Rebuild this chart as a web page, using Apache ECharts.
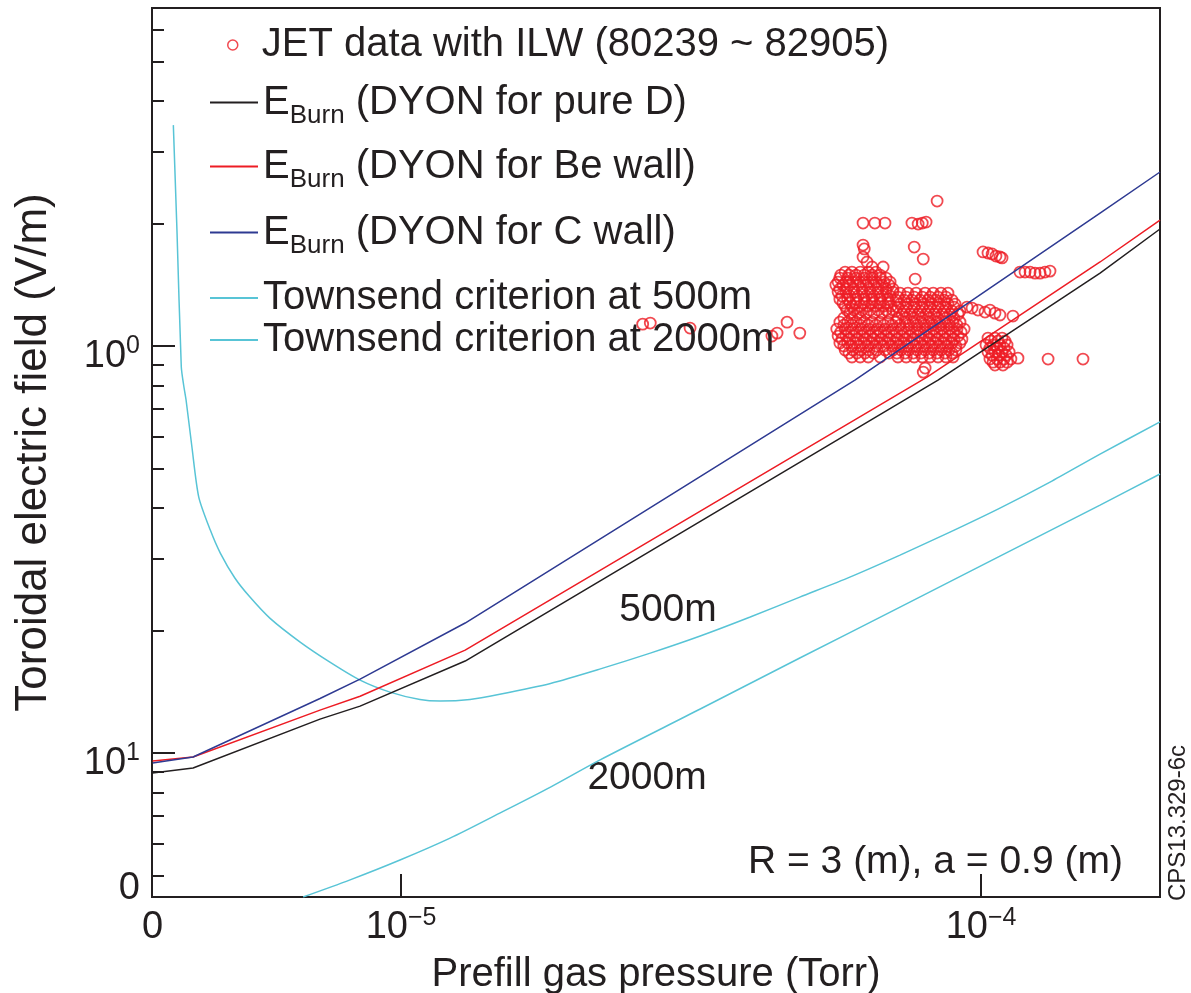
<!DOCTYPE html>
<html>
<head>
<meta charset="utf-8">
<script src="https://cdn.jsdelivr.net/npm/echarts@6/dist/echarts.min.js"></script>
<style>
html, body { margin: 0; padding: 0; background: #fff; }
#chart { width: 1191px; height: 993px; }
</style>
</head>
<body>
<div id="chart"></div>
<script>
// axis ranges (Torr, V/m)
var xMin = 3.721e-6, xMax = 2.035e-4;
var yMin = 0.0443, yMax = 6.77;

// tick labels as printed in the figure
var xLabelVals = [3.73e-6, 1e-5, 1e-4];
var xLabelText = ['0', '10{sup|−5}', '10{sup|−4}'];
var xTickVals = [1e-5, 1e-4];
var yLabelVals = [1, 0.1, 0.0493];
var yLabelText = ['10{sup|0}', '10{sup|1}', '0'];
var yMajorTicks = [1, 0.1];
var yMinorTicks = [6, 5, 4, 3, 2, 0.9, 0.8, 0.7, 0.6, 0.5, 0.4, 0.3, 0.2, 0.09, 0.08, 0.07, 0.06, 0.05];

// DYON burn-through curves [pressure (Torr), E (V/m)]
var burnD = [[3.73e-6, 0.0893], [4.38e-6, 0.0919], [7.25e-6, 0.1212], [8.50e-6, 0.1304], [1.29e-5, 0.1683], [8.43e-5, 0.825], [1.604e-4, 1.511], [2.035e-4, 1.939]];
var burnBe = [[3.73e-6, 0.0956], [4.38e-6, 0.0978], [7.25e-6, 0.1275], [8.50e-6, 0.1379], [1.29e-5, 0.1791], [8.07e-5, 0.839], [1.604e-4, 1.609], [2.035e-4, 2.04]];
var burnC = [[3.73e-6, 0.0945], [4.38e-6, 0.0978], [7.25e-6, 0.1362], [8.50e-6, 0.152], [1.29e-5, 0.2087], [6.06e-5, 0.825], [1.604e-4, 2.122], [2.035e-4, 2.677]];

// Townsend criterion curves
var town500 = [[4.05e-6, 3.49], [4.11e-6, 1.895], [4.18e-6, 0.888], [4.22e-6, 0.80], [4.26e-6, 0.737], [4.36e-6, 0.565], [4.48e-6, 0.4256], [4.69e-6, 0.3531], [4.88e-6, 0.31], [5.17e-6, 0.2693], [5.49e-6, 0.2417], [5.94e-6, 0.2146], [6.70e-6, 0.1874], [7.54e-6, 0.1673], [8.50e-6, 0.1511], [9.57e-6, 0.1412], [1.078e-5, 0.1354], [1.168e-5, 0.1342], [1.315e-5, 0.1354], [1.48e-5, 0.1395], [1.81e-5, 0.1483], [2.20e-5, 0.1608], [2.69e-5, 0.176], [3.28e-5, 0.1939], [4.00e-5, 0.2159], [4.87e-5, 0.2417], [5.94e-5, 0.2706], [7.25e-5, 0.3065], [8.84e-5, 0.3491], [1.078e-4, 0.3999], [1.315e-4, 0.4633], [1.604e-4, 0.5429], [2.035e-4, 0.651]];
var town2000 = [[6.78e-6, 0.0443], [8.17e-6, 0.0488], [9.96e-6, 0.0546], [1.215e-5, 0.0618], [1.48e-5, 0.0712], [1.81e-5, 0.0825], [2.20e-5, 0.0961], [3.28e-5, 0.1283], [4.87e-5, 0.1712], [7.25e-5, 0.2284], [1.078e-4, 0.3048], [1.604e-4, 0.4068], [2.035e-4, 0.485]];

// JET ILW shots: [pressure (1e-5 Torr), E (V/m)]
var jetData = [
  [2.61, 1.132], [2.69, 1.139], [3.15, 1.107], [4.36, 1.058], [4.45, 1.076], [4.63, 1.145], [4.87, 1.076],
  [8.40, 2.271], [6.26, 2.005], [6.56, 2.005], [6.83, 2.005], [7.60, 2.005], [7.79, 1.994], [7.92, 2.005], [8.04, 2.017],
  [6.26, 1.771], [6.29, 1.732], [7.67, 1.751], [7.95, 1.636], [6.26, 1.655], [6.36, 1.609], [6.49, 1.564], [6.78, 1.564], [7.70, 1.461],
  [10.08, 1.703], [10.28, 1.693], [10.45, 1.684], [10.61, 1.664], [10.78, 1.655], [10.87, 1.646],
  [11.67, 1.520], [11.91, 1.520], [12.15, 1.520], [12.39, 1.511], [12.64, 1.511], [12.89, 1.520], [13.15, 1.528],
  [9.46, 1.247], [9.65, 1.240], [9.88, 1.226], [10.16, 1.212], [10.36, 1.226], [10.57, 1.205], [10.78, 1.192], [11.35, 1.185],
  [8.01, 0.883], [7.95, 0.863], [11.58, 0.934], [13.05, 0.929], [14.99, 0.929],
  // upper-left lobe
  [5.83, 1.520], [5.99, 1.520], [6.19, 1.520], [6.39, 1.520], [6.59, 1.520],
  [5.73, 1.494], [5.92, 1.494], [6.09, 1.494], [6.29, 1.494], [6.49, 1.494], [6.70, 1.494],
  [5.71, 1.469], [5.89, 1.469], [6.09, 1.469], [6.29, 1.469], [6.49, 1.469], [6.70, 1.469], [6.86, 1.469],
  [5.67, 1.436], [5.85, 1.436], [6.01, 1.436], [6.19, 1.436], [6.39, 1.436], [6.59, 1.436], [6.80, 1.436], [6.97, 1.436],
  [5.62, 1.412], [5.78, 1.412], [5.94, 1.412], [6.14, 1.412], [6.34, 1.412], [6.54, 1.412], [6.75, 1.412], [6.94, 1.412],
  [5.71, 1.381], [5.87, 1.381], [6.04, 1.381], [6.24, 1.381], [6.44, 1.381], [6.64, 1.381], [6.86, 1.381], [7.05, 1.381],
  [5.67, 1.357], [5.85, 1.357], [6.04, 1.357], [6.24, 1.357], [6.44, 1.357], [6.64, 1.357], [6.86, 1.357], [7.05, 1.357],
  [5.76, 1.327], [5.94, 1.327], [6.14, 1.327], [6.34, 1.327], [6.54, 1.327], [6.75, 1.327], [6.97, 1.327],
  [5.71, 1.304], [5.89, 1.304], [6.09, 1.304], [6.29, 1.304], [6.49, 1.304], [6.70, 1.304], [6.91, 1.304],
  [5.78, 1.275], [5.94, 1.275], [6.09, 1.275], [6.29, 1.275], [6.49, 1.275], [6.70, 1.275], [6.91, 1.275],
  [5.83, 1.254], [5.99, 1.254], [6.19, 1.254], [6.39, 1.254], [6.59, 1.254], [6.80, 1.254], [7.00, 1.254],
  [5.87, 1.226], [6.04, 1.226], [6.24, 1.226], [6.44, 1.226], [6.64, 1.226], [6.86, 1.226], [7.05, 1.226],
  [5.94, 1.205], [6.14, 1.205], [6.34, 1.205], [6.54, 1.205], [6.75, 1.205], [6.94, 1.205],
  // middle blob, upper part
  [7.25, 1.349], [7.48, 1.349], [7.73, 1.349], [8.01, 1.349], [8.27, 1.349], [8.53, 1.349], [8.77, 1.349],
  [7.19, 1.319], [7.43, 1.319], [7.67, 1.319], [7.92, 1.319], [8.17, 1.319], [8.43, 1.319], [8.70, 1.319],
  [7.14, 1.297], [7.37, 1.297], [7.60, 1.297], [7.85, 1.297], [8.11, 1.297], [8.36, 1.297], [8.64, 1.297], [8.91, 1.297],
  [7.25, 1.268], [7.48, 1.268], [7.73, 1.268], [7.98, 1.268], [8.24, 1.268], [8.50, 1.268], [8.77, 1.268], [9.02, 1.268],
  [7.19, 1.247], [7.43, 1.247], [7.67, 1.247], [7.92, 1.247], [8.17, 1.247], [8.43, 1.247], [8.70, 1.247], [8.98, 1.247],
  [7.14, 1.219], [7.37, 1.219], [7.60, 1.219], [7.85, 1.219], [8.11, 1.219], [8.36, 1.219], [8.64, 1.219], [8.91, 1.219], [9.20, 1.219],
  [7.31, 1.198], [7.54, 1.198], [7.79, 1.198], [8.04, 1.198], [8.30, 1.198], [8.57, 1.198], [8.84, 1.198], [9.13, 1.198],
  [5.80, 1.172], [5.99, 1.172], [6.19, 1.172], [7.19, 1.172], [7.43, 1.172], [7.67, 1.172], [7.92, 1.172], [8.17, 1.172], [8.43, 1.172], [8.70, 1.172], [8.98, 1.172],
  // lower band
  [5.71, 1.145], [5.89, 1.145], [6.09, 1.145], [6.29, 1.145], [6.49, 1.145], [6.70, 1.145], [6.91, 1.145], [7.14, 1.145],
  [7.40, 1.145], [7.64, 1.145], [7.88, 1.145], [8.14, 1.145], [8.40, 1.145], [8.67, 1.145], [8.95, 1.145], [9.20, 1.145],
  [5.80, 1.126], [5.99, 1.126], [6.19, 1.126], [6.39, 1.126], [6.59, 1.126], [6.80, 1.126], [7.03, 1.126], [7.25, 1.126],
  [7.51, 1.126], [7.76, 1.126], [8.01, 1.126], [8.27, 1.126], [8.53, 1.126], [8.81, 1.126], [9.09, 1.126],
  [5.64, 1.101], [5.83, 1.101], [6.01, 1.101], [6.21, 1.101], [6.41, 1.101], [6.62, 1.101], [6.83, 1.101], [7.05, 1.101],
  [7.28, 1.101], [7.51, 1.101], [7.76, 1.101], [8.01, 1.101], [8.27, 1.101], [8.53, 1.101], [8.81, 1.101], [9.09, 1.101], [9.35, 1.101],
  [5.73, 1.082], [5.92, 1.082], [6.11, 1.082], [6.31, 1.082], [6.52, 1.082], [6.72, 1.082], [6.94, 1.082], [7.16, 1.082],
  [7.40, 1.082], [7.64, 1.082], [7.88, 1.082], [8.14, 1.082], [8.40, 1.082], [8.67, 1.082], [8.95, 1.082], [9.24, 1.082],
  [5.67, 1.058], [5.85, 1.058], [6.04, 1.058], [6.24, 1.058], [6.44, 1.058], [6.64, 1.058], [6.86, 1.058], [7.08, 1.058],
  [7.31, 1.058], [7.54, 1.058], [7.79, 1.058], [8.04, 1.058], [8.30, 1.058], [8.57, 1.058], [8.84, 1.058], [9.13, 1.058],
  [5.76, 1.040], [5.94, 1.040], [6.14, 1.040], [6.34, 1.040], [6.54, 1.040], [6.75, 1.040], [6.97, 1.040], [7.19, 1.040],
  [7.43, 1.040], [7.67, 1.040], [7.92, 1.040], [8.17, 1.040], [8.43, 1.040], [8.70, 1.040], [8.98, 1.040], [9.27, 1.040],
  [5.71, 1.017], [5.89, 1.017], [6.09, 1.017], [6.29, 1.017], [6.49, 1.017], [6.70, 1.017], [6.91, 1.017], [7.14, 1.017],
  [7.37, 1.017], [7.60, 1.017], [7.85, 1.017], [8.11, 1.017], [8.36, 1.017], [8.64, 1.017], [8.91, 1.017], [9.20, 1.017],
  [5.80, 1.000], [5.99, 1.000], [6.19, 1.000], [6.39, 1.000], [6.59, 1.000], [6.80, 1.000], [7.03, 1.000], [7.25, 1.000],
  [7.48, 1.000], [7.73, 1.000], [7.98, 1.000], [8.24, 1.000], [8.50, 1.000], [8.77, 1.000], [9.05, 1.000],
  [5.83, 0.978], [6.01, 0.978], [6.21, 0.978], [6.41, 0.978], [6.62, 0.978], [6.83, 0.978], [7.05, 0.978], [7.28, 0.978],
  [7.51, 0.978], [7.76, 0.978], [8.01, 0.978], [8.27, 0.978], [8.53, 0.978], [8.81, 0.978], [9.05, 0.978],
  [5.92, 0.961], [6.11, 0.961], [6.31, 0.961], [6.52, 0.961], [6.94, 0.961], [7.16, 0.961], [7.40, 0.961], [7.64, 0.961],
  [7.88, 0.961], [8.14, 0.961], [8.40, 0.961], [8.67, 0.961], [8.91, 0.961],
  [5.99, 0.940], [6.19, 0.940], [6.39, 0.940], [6.70, 0.940], [7.19, 0.940], [7.43, 0.940], [7.67, 0.940], [7.92, 0.940],
  [8.17, 0.940], [8.43, 0.940], [8.70, 0.940], [8.95, 0.940],
  // small group right of the blue line
  [10.28, 1.046], [10.57, 1.046], [10.87, 1.046],
  [10.40, 1.029], [10.70, 1.029], [11.00, 1.029],
  [10.20, 1.006], [10.49, 1.006], [10.78, 1.006], [11.09, 1.006],
  [10.36, 0.989], [10.66, 0.989], [10.96, 0.989],
  [10.28, 0.967], [10.57, 0.967], [10.87, 0.967], [11.18, 0.967],
  [10.45, 0.950], [10.74, 0.950], [11.05, 0.950],
  [10.36, 0.929], [10.66, 0.929], [10.96, 0.929], [11.26, 0.929],
  [10.49, 0.913], [10.78, 0.913], [11.09, 0.913],
  [10.57, 0.898], [10.91, 0.898]
];

var jetName = 'JET data with ILW (80239 ~ 82905)';
var nameD = 'EBurn (DYON for pure D)';
var nameBe = 'EBurn (DYON for Be wall)';
var nameC = 'EBurn (DYON for C wall)';
var name500 = 'Townsend criterion at 500m';
var name2000 = 'Townsend criterion at 2000m';

var FONT = '"Liberation Sans", Arial, Helvetica, sans-serif';
var INK = '#231f20';
var RED = '#ed1c24', BLUE = '#2e3a92', CYAN = '#58c4d6';

function pickLabel(vals, texts) {
  return function (v) {
    for (var i = 0; i < vals.length; i++) {
      if (Math.abs(Math.log10(v / vals[i])) < 0.004) return texts[i];
    }
    return '';
  };
}

var supRich = { sup: { fontFamily: FONT, fontSize: 25, lineHeight: 25, verticalAlign: 'top', color: INK } };
var subRich = { sub: { fontFamily: FONT, fontSize: 26, lineHeight: 26, verticalAlign: 'bottom', color: INK } };

function subFormatter(name) { return name.replace('EBurn', 'E{sub|Burn}'); }

function lineLegend(name, top) {
  var sub = name.indexOf('EBurn') === 0;
  return {
    left: 210, top: top, padding: 0, orient: 'horizontal', selectedMode: false,
    itemWidth: 48, itemHeight: 2, icon: 'rect', data: [name],
    formatter: subFormatter,
    textStyle: { fontFamily: FONT, fontSize: 40, color: INK, lineHeight: sub ? 53 : 44, rich: subRich }
  };
}

var chart = echarts.init(document.getElementById('chart'));
var option = {
  backgroundColor: '#fff',
  animation: false,
  grid: {
    left: 152, right: 31, top: 8, bottom: 96, outerBoundsMode: 'none', containLabel: false,
    show: true, borderColor: INK, borderWidth: 2, backgroundColor: 'transparent'
  },
  legend: [
    {
      left: 227, top: 23, padding: 0, selectedMode: false, itemWidth: 10, itemHeight: 10,
      data: [{ name: jetName, icon: 'circle', itemStyle: { color: '#fff', borderColor: RED, borderWidth: 1.5 } }],
      textStyle: { fontFamily: FONT, fontSize: 40, color: INK, lineHeight: 44, padding: [0, 0, 0, 19] }
    },
    lineLegend(nameD, 76),
    lineLegend(nameBe, 140),
    lineLegend(nameC, 206),
    lineLegend(name500, 276),
    lineLegend(name2000, 318)
  ],
  xAxis: [{
    type: 'log', logBase: 10, min: xMin, max: xMax,
    axisLine: { show: false },
    splitLine: { show: false },
    minorTick: { show: false },
    axisTick: { show: true, inside: true, length: 23, customValues: xTickVals, lineStyle: { color: INK, width: 2 } },
    axisLabel: {
      customValues: xLabelVals, formatter: pickLabel(xLabelVals, xLabelText), margin: 9,
      fontFamily: FONT, fontSize: 38, lineHeight: 44, color: INK, rich: supRich
    },
    name: 'Prefill gas pressure (Torr)', nameLocation: 'middle', nameGap: 49,
    nameTextStyle: { fontFamily: FONT, fontSize: 40, color: INK }
  }],
  yAxis: [{
    type: 'log', logBase: 10, min: yMin, max: yMax,
    axisLine: { show: false },
    splitLine: { show: false },
    minorTick: { show: false },
    axisTick: { show: true, inside: true, length: 23, customValues: yMajorTicks, lineStyle: { color: INK, width: 2 } },
    axisLabel: {
      customValues: yLabelVals, formatter: pickLabel(yLabelVals, yLabelText), margin: 12,
      fontFamily: FONT, fontSize: 38, lineHeight: 44, color: INK, padding: [20, 0, 0, 0], rich: supRich
    },
    name: 'Toroidal electric field (V/m)', nameLocation: 'middle', nameGap: 96,
    nameTextStyle: { fontFamily: FONT, fontSize: 44, color: INK }
  }, {
    type: 'log', logBase: 10, min: yMin, max: yMax, position: 'left',
    axisLine: { show: false },
    splitLine: { show: false },
    axisLabel: { show: false },
    axisTick: { show: true, inside: true, length: 12, customValues: yMinorTicks, lineStyle: { color: INK, width: 2 } }
  }],
  series: [{
    name: jetName, type: 'scatter', silent: true,
    symbol: 'circle', symbolSize: 11,
    itemStyle: { color: 'rgba(255,255,255,0)', borderColor: RED, borderWidth: 1.8 },
    data: jetData.map(function (d) { return [d[0] * 1e-5, d[1]]; })
  }, {
    name: name500, type: 'line', silent: true, symbol: 'none', color: CYAN, smooth: 0.25,
    lineStyle: { color: CYAN, width: 1.5 }, data: town500
  }, {
    name: name2000, type: 'line', silent: true, symbol: 'none', color: CYAN, smooth: 0.3,
    lineStyle: { color: CYAN, width: 1.5 }, data: town2000
  }, {
    name: nameD, type: 'line', silent: true, symbol: 'none', color: INK,
    lineStyle: { color: INK, width: 1.5 }, data: burnD
  }, {
    name: nameBe, type: 'line', silent: true, symbol: 'none', color: RED,
    lineStyle: { color: RED, width: 1.5 }, data: burnBe
  }, {
    name: nameC, type: 'line', silent: true, symbol: 'none', color: BLUE,
    lineStyle: { color: BLUE, width: 1.5 }, data: burnC
  }],
  graphic: [
    { type: 'text', x: 668, y: 610, style: { text: '500m', font: '39px ' + FONT, fill: INK, align: 'center', verticalAlign: 'middle', textAlign: 'center', textVerticalAlign: 'middle' } },
    { type: 'text', x: 647, y: 778, style: { text: '2000m', font: '39px ' + FONT, fill: INK, align: 'center', verticalAlign: 'middle', textAlign: 'center', textVerticalAlign: 'middle' } },
    { type: 'text', x: 748, y: 862, style: { text: 'R = 3 (m), a = 0.9 (m)', font: '39px ' + FONT, fill: INK, align: 'left', verticalAlign: 'middle', textAlign: 'left', textVerticalAlign: 'middle' } },
    { type: 'text', x: 1178, y: 823, rotation: Math.PI / 2, style: { text: 'CPS13.329-6c', font: '24px ' + FONT, fill: INK, align: 'center', verticalAlign: 'middle', textAlign: 'center', textVerticalAlign: 'middle' } }
  ]
};
chart.setOption(option);
</script>
</body>
</html>
